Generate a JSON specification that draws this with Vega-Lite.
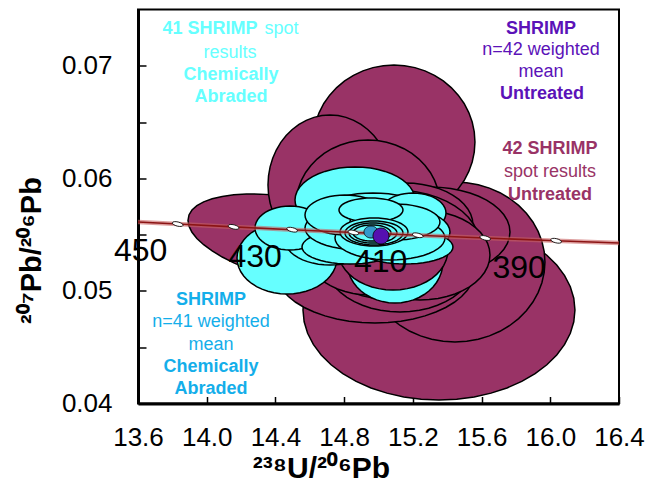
{
  "$schema": "https://vega.github.io/schema/vega-lite/v6.json",
  "width": 481,
  "height": 394,
  "autosize": {"type": "none"},
  "padding": {"left": 138, "top": 9.5, "right": 31, "bottom": 78.5},
  "background": "white",
  "config": {"view": {"stroke": "black", "strokeWidth": 2}, "font": "Liberation Sans"},
  "title": {"text": "data point error ellipses are 2σ", "anchor": "end", "frame": "group", "fontSize": 23, "fontWeight": "normal", "color": "black", "offset": 3, "baseline": "alphabetic", "dx": -12},
  "resolve": {"scale": {"color": "independent"}},
  "datasets": {
    "angles": [{"k": 1, "t": [0,7.5,15,22.5,30,37.5,45,52.5,60,67.5,75,82.5,90,97.5,105,112.5,120,127.5,135,142.5,150,157.5,165,172.5,180,187.5,195,202.5,210,217.5,225,232.5,240,247.5,255,262.5,270,277.5,285,292.5,300,307.5,315,322.5,330,337.5,345,352.5]}],
    "ellipses": [
      {"id": "e01", "g": "U", "x": 15.352, "y": 0.048306, "sx": 0.7916, "sy": 0.007995, "rho": 0},
      {"id": "e02", "g": "U", "x": 15.4451, "y": 0.052570, "sx": 0.5239, "sy": 0.007107, "rho": 0},
      {"id": "e03", "g": "U", "x": 15.090, "y": 0.063230, "sx": 0.4715, "sy": 0.00684, "rho": 0},
      {"id": "e04", "g": "U", "x": 14.572, "y": 0.054347, "sx": 0.681, "sy": 0.004264, "rho": -0.45},
      {"id": "e05", "g": "U", "x": 14.7176, "y": 0.059410, "sx": 0.3609, "sy": 0.006218, "rho": 0},
      {"id": "e06", "g": "U", "x": 14.9388, "y": 0.057633, "sx": 0.4191, "sy": 0.005774, "rho": 0},
      {"id": "e07", "g": "U", "x": 15.2997, "y": 0.055235, "sx": 0.4657, "sy": 0.003998, "rho": 0},
      {"id": "e08", "g": "U", "x": 15.1541, "y": 0.055857, "sx": 0.3958, "sy": 0.003731, "rho": 0},
      {"id": "e09", "g": "U", "x": 14.9795, "y": 0.051859, "sx": 0.5821, "sy": 0.004708, "rho": 0},
      {"id": "e10", "g": "U", "x": 15.1250, "y": 0.052570, "sx": 0.4366, "sy": 0.004442, "rho": 0},
      {"id": "e11", "g": "U", "x": 15.0959, "y": 0.054080, "sx": 0.4948, "sy": 0.004886, "rho": 0},
      {"id": "e12", "g": "U", "x": 15.2414, "y": 0.053192, "sx": 0.4075, "sy": 0.003998, "rho": 0},
      {"id": "e13", "g": "U", "x": 14.9504, "y": 0.053636, "sx": 0.3783, "sy": 0.003998, "rho": 0},
      {"id": "e14", "g": "CA", "x": 14.4673, "y": 0.052925, "sx": 0.2910, "sy": 0.003198, "rho": 0},
      {"id": "e15", "g": "CA", "x": 14.8631, "y": 0.058078, "sx": 0.3492, "sy": 0.002932, "rho": 0},
      {"id": "e16", "g": "CA", "x": 15.0959, "y": 0.052570, "sx": 0.2794, "sy": 0.003642, "rho": 0},
      {"id": "e17", "g": "U", "x": 15.0843, "y": 0.053636, "sx": 0.3201, "sy": 0.003553, "rho": 0},
      {"id": "e18", "g": "CA", "x": 14.7176, "y": 0.054524, "sx": 0.2619, "sy": 0.002221, "rho": 0},
      {"id": "e19", "g": "CA", "x": 14.4848, "y": 0.055590, "sx": 0.2037, "sy": 0.001954, "rho": 0},
      {"id": "e20", "g": "CA", "x": 14.9679, "y": 0.056479, "sx": 0.3492, "sy": 0.002221, "rho": 0},
      {"id": "e21", "g": "CA", "x": 15.2007, "y": 0.056923, "sx": 0.1921, "sy": 0.001777, "rho": 0},
      {"id": "e22", "g": "CA", "x": 15.0086, "y": 0.055235, "sx": 0.4075, "sy": 0.002487, "rho": 0},
      {"id": "e23", "g": "CA", "x": 14.8340, "y": 0.053902, "sx": 0.2794, "sy": 0.00151, "rho": 0},
      {"id": "e24", "g": "CA", "x": 15.1541, "y": 0.053902, "sx": 0.2794, "sy": 0.00151, "rho": 0},
      {"id": "e25", "g": "CA", "x": 14.8922, "y": 0.055590, "sx": 0.3201, "sy": 0.001954, "rho": 0},
      {"id": "e26", "g": "CA", "x": 15.0668, "y": 0.054702, "sx": 0.3201, "sy": 0.001954, "rho": 0},
      {"id": "e27", "g": "CA", "x": 14.8049, "y": 0.056745, "sx": 0.2328, "sy": 0.001777, "rho": 0},
      {"id": "e28", "g": "CA", "x": 15.0959, "y": 0.056123, "sx": 0.2619, "sy": 0.001599, "rho": 0},
      {"id": "e29", "g": "CA", "x": 14.9562, "y": 0.057189, "sx": 0.1863, "sy": 0.001066, "rho": 0},
      {"id": "e30", "g": "CA", "x": 14.9737, "y": 0.055235, "sx": 0.1979, "sy": 0.001244, "rho": 0},
      {"id": "e31", "g": "CA", "x": 14.9737, "y": 0.055146, "sx": 0.1688, "sy": 0.001066, "rho": 0},
      {"id": "e32", "g": "CA", "x": 14.9679, "y": 0.055146, "sx": 0.1397, "sy": 0.000888, "rho": 0},
      {"id": "e33", "g": "CA", "x": 14.9621, "y": 0.055146, "sx": 0.1106, "sy": 0.000711, "rho": 0},
      {"id": "e34", "g": "mCA", "x": 14.9562, "y": 0.055235, "sx": 0.0407, "sy": 0.000533, "rho": 0},
      {"id": "e35", "g": "mU", "x": 15.0144, "y": 0.054880, "sx": 0.0466, "sy": 0.000711, "rho": 0}
    ],
    "concordia": [
      {"age": 460, "x": 13.5199, "y": 0.056193},
      {"age": 450, "x": 13.8312, "y": 0.055941},
      {"age": 440, "x": 14.1566, "y": 0.055689},
      {"age": 430, "x": 14.4974, "y": 0.055440},
      {"age": 420, "x": 14.8540, "y": 0.055192},
      {"age": 410, "x": 15.2282, "y": 0.054945},
      {"age": 400, "x": 15.6212, "y": 0.054701},
      {"age": 390, "x": 16.0343, "y": 0.054457},
      {"age": 380, "x": 16.4691, "y": 0.054215}
    ],
    "notes": [
      {"g": "CA", "b": true, "x": 14.0191, "y": 0.073269, "text": "41 SHRIMP"},
      {"g": "CA", "b": false, "x": 14.435, "y": 0.073269, "text": "spot"},
      {"g": "CA", "b": false, "x": 14.1355, "y": 0.071136, "text": "results"},
      {"g": "CA", "b": true, "x": 14.1413, "y": 0.069182, "text": "Chemically"},
      {"g": "CA", "b": true, "x": 14.1413, "y": 0.067183, "text": "Abraded"},
      {"g": "mU", "b": true, "x": 15.9457, "y": 0.073269, "text": "SHRIMP"},
      {"g": "mU", "b": false, "x": 15.9457, "y": 0.071358, "text": "n=42 weighted"},
      {"g": "mU", "b": false, "x": 15.9457, "y": 0.069404, "text": "mean"},
      {"g": "mU", "b": true, "x": 15.9516, "y": 0.067450, "text": "Untreated"},
      {"g": "U", "b": true, "x": 15.9981, "y": 0.062608, "text": "42 SHRIMP"},
      {"g": "U", "b": false, "x": 15.9981, "y": 0.060565, "text": "spot results"},
      {"g": "U", "b": true, "x": 15.9981, "y": 0.058522, "text": "Untreated"},
      {"g": "mCA", "b": true, "x": 14.0249, "y": 0.049194, "text": "SHRIMP"},
      {"g": "mCA", "b": false, "x": 14.0249, "y": 0.047240, "text": "n=41 weighted"},
      {"g": "mCA", "b": false, "x": 14.0249, "y": 0.045197, "text": "mean"},
      {"g": "mCA", "b": true, "x": 14.0249, "y": 0.043242, "text": "Chemically"},
      {"g": "mCA", "b": true, "x": 14.0249, "y": 0.041288, "text": "Abraded"}
    ]
  },
  "layer": [
    {
      "data": {"name": "ellipses"},
      "transform": [
        {"filter": "datum.g == 'U' || datum.g == 'CA'"},
        {"calculate": "1", "as": "k"},
        {"lookup": "k", "from": {"data": {"name": "angles"}, "key": "k", "fields": ["t"]}},
        {"flatten": ["t"]},
        {"calculate": "datum.x + datum.sx * cos(datum.t * PI / 180)", "as": "ex"},
        {"calculate": "datum.y + datum.sy * (datum.rho * cos(datum.t * PI / 180) + sqrt(1 - datum.rho * datum.rho) * sin(datum.t * PI / 180))", "as": "ey"}
      ],
      "mark": {"type": "line", "filled": true, "interpolate": "linear-closed", "stroke": "black", "strokeWidth": 1.5, "clip": true},
      "encoding": {
        "x": {"field": "ex", "type": "quantitative", "scale": {"domain": [13.6, 16.4], "nice": false, "zero": false},
          "axis": {"values": [13.6,13.8,14,14.2,14.4,14.6,14.8,15,15.2,15.4,15.6,15.8,16,16.2,16.4],
            "labelExpr": "round(datum.value*10) % 4 == 0 ? format(datum.value, '.1f') : ''",
            "grid": false, "tickSize": -7, "tickWidth": 1.5, "tickColor": "black", "domainWidth": 3, "domainColor": "black",
            "labelFontSize": 26, "labelColor": "black", "labelPadding": 27.5, "labelFlush": false, "labelOverlap": false, "labelBound": false,
            "title": "²³⁸U/²⁰⁶Pb", "titleFontSize": 30, "titleFontWeight": "bold", "titleColor": "black",
            "titleX": 183, "titleY": 73.5, "titleBaseline": "alphabetic", "titleAlign": "center"}},
        "y": {"field": "ey", "type": "quantitative", "scale": {"domain": [0.04, 0.075], "nice": false, "zero": false},
          "axis": {"values": [0.04,0.045,0.05,0.055,0.06,0.065,0.07],
            "labelExpr": "round(datum.value*1000) % 10 == 0 ? format(datum.value, '.2f') : ''",
            "grid": false, "tickSize": -8, "tickWidth": 1.5, "tickColor": "black", "domainWidth": 3, "domainColor": "black",
            "labelFontSize": 26, "labelColor": "black", "labelPadding": 34, "labelOverlap": false, "labelBound": false,
            "title": "²⁰⁷Pb/²⁰⁶Pb", "titleFontSize": 29, "titleFontWeight": "bold", "titleColor": "black",
            "titleX": -98, "titleY": 240.5, "titleAngle": -90, "titleBaseline": "alphabetic", "titleAlign": "center"}},
        "detail": {"field": "id"},
        "order": {"field": "t", "type": "quantitative"},
        "color": {"field": "g", "type": "nominal", "scale": {"domain": ["U", "CA"], "range": ["#993366", "#66FFFF"]}, "legend": null}
      }
    },
    {
      "data": {"name": "concordia"},
      "mark": {"type": "line", "color": "#C86060", "strokeWidth": 4.5, "opacity": 0.6, "clip": true},
      "encoding": {
        "x": {"field": "x", "type": "quantitative"},
        "y": {"field": "y", "type": "quantitative"},
        "order": {"field": "x", "type": "quantitative"}
      }
    },
    {
      "data": {"name": "concordia"},
      "mark": {"type": "line", "color": "#8B1414", "strokeWidth": 1.6, "clip": true},
      "encoding": {
        "x": {"field": "x", "type": "quantitative"},
        "y": {"field": "y", "type": "quantitative"},
        "order": {"field": "x", "type": "quantitative"}
      }
    },
    {
      "data": {"name": "concordia"},
      "transform": [{"filter": "datum.age >= 390 && datum.age <= 450"}],
      "mark": {"type": "point", "shape": "M-1,0A1,0.38,0,1,0,1,0A1,0.38,0,1,0,-1,0Z", "size": 121, "angle": 14, "filled": true, "fill": "white", "stroke": "black", "strokeWidth": 0.8, "opacity": 1},
      "encoding": {
        "x": {"field": "x", "type": "quantitative"},
        "y": {"field": "y", "type": "quantitative"}
      }
    },
    {
      "data": {"name": "ellipses"},
      "transform": [
        {"filter": "datum.g == 'mCA' || datum.g == 'mU'"},
        {"calculate": "1", "as": "k"},
        {"lookup": "k", "from": {"data": {"name": "angles"}, "key": "k", "fields": ["t"]}},
        {"flatten": ["t"]},
        {"calculate": "datum.x + datum.sx * cos(datum.t * PI / 180)", "as": "ex"},
        {"calculate": "datum.y + datum.sy * (datum.rho * cos(datum.t * PI / 180) + sqrt(1 - datum.rho * datum.rho) * sin(datum.t * PI / 180))", "as": "ey"}
      ],
      "mark": {"type": "line", "filled": true, "interpolate": "linear-closed", "stroke": "black", "strokeWidth": 0.8, "clip": true},
      "encoding": {
        "x": {"field": "ex", "type": "quantitative"},
        "y": {"field": "ey", "type": "quantitative"},
        "detail": {"field": "id"},
        "order": {"field": "t", "type": "quantitative"},
        "color": {"field": "g", "type": "nominal", "scale": {"domain": ["mCA", "mU"], "range": ["#3399CC", "#5510B0"]}, "legend": null}
      }
    },
    {
      "data": {"name": "concordia"},
      "transform": [{"filter": "datum.age >= 390 && datum.age <= 450 && datum.age % 20 == 10"}],
      "mark": {"type": "text", "fontSize": 32, "color": "black", "align": "center", "baseline": "middle", "dx": -37, "dy": 27},
      "encoding": {
        "x": {"field": "x", "type": "quantitative"},
        "y": {"field": "y", "type": "quantitative"},
        "text": {"field": "age", "type": "quantitative"}
      }
    },
    {
      "data": {"name": "notes"},
      "transform": [{"filter": "datum.b"}],
      "mark": {"type": "text", "fontSize": 18, "fontWeight": "bold", "align": "center", "baseline": "middle"},
      "encoding": {
        "x": {"field": "x", "type": "quantitative"},
        "y": {"field": "y", "type": "quantitative"},
        "text": {"field": "text"},
        "color": {"field": "g", "type": "nominal", "scale": {"domain": ["U", "CA", "mCA", "mU"], "range": ["#993366", "#66FFFF", "#14AEEA", "#5B12B8"]}, "legend": null}
      }
    },
    {
      "data": {"name": "notes"},
      "transform": [{"filter": "!datum.b"}],
      "mark": {"type": "text", "fontSize": 18, "fontWeight": "normal", "align": "center", "baseline": "middle"},
      "encoding": {
        "x": {"field": "x", "type": "quantitative"},
        "y": {"field": "y", "type": "quantitative"},
        "text": {"field": "text"},
        "color": {"field": "g", "type": "nominal", "scale": {"domain": ["U", "CA", "mCA", "mU"], "range": ["#993366", "#66FFFF", "#14AEEA", "#5B12B8"]}, "legend": null}
      }
    }
  ]
}
